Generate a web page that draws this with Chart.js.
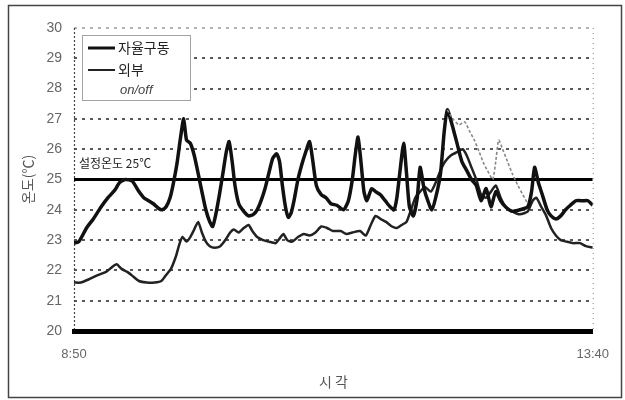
<!DOCTYPE html>
<html>
<head>
<meta charset="utf-8">
<script src="https://cdn.jsdelivr.net/npm/chart.js@4/dist/chart.umd.min.js"></script>
<style>
  html,body{margin:0;padding:0;background:#fff;}
  #wrap{width:625px;height:400px;position:relative;}
</style>
</head>
<body>
<div id="wrap"><canvas id="c" width="625" height="400"></canvas></div>
<script>
// x: minutes since 8:50
const xTickValues = [0, 290];
const xTickLabels = ['8:50', '13:40'];
const yTicks = [20, 21, 22, 23, 24, 25, 26, 27, 28, 29, 30];
const setPoint = 25;
const setPointLabel = '설정온도 25℃';
const seriesNames = ['자율구동', '외부', 'on/off'];

const timeAuto = [0,2.7,7.0,10.8,15.2,19.0,22.8,25.5,28.7,32.5,36.3,39.0,41.7,44.4,47.2,49.3,51.5,53.7,55.3,57.5,59.6,61.3,62.9,65.0,67.2,69.4,71.5,73.7,75.9,77.5,79.1,81.3,83.5,85.1,86.7,88.4,90.0,92.1,94.9,97.6,100.3,102.4,104.6,106.8,108.9,111.1,113.3,114.9,116.5,118.2,119.8,121.4,123.0,125.2,127.4,129.5,131.7,133.3,135.5,138.2,140.9,143.6,146.9,150.7,153.4,155.6,157.2,158.8,160.4,162.1,163.7,166.4,168.6,171.3,174.0,176.7,178.9,180.5,182.1,184.3,185.9,187.5,189.7,191.9,193.5,195.7,197.8,200.0,202.2,204.9,207.0,208.7,211.4,214.1,216.8,219.5,222.2,224.9,227.6,230.4,233.1,235.8,238.5,241.2,245.0,249.3,253.7,255.8,257.5,259.6,261.8,264.5,266.7,269.4,272.1,274.8,277.5,280.8,284.6,287.3,290.0];
const tempAuto = [22.9,22.95,23.4,23.7,24.1,24.4,24.65,24.9,25.0,24.95,24.6,24.4,24.3,24.2,24.05,24.0,24.1,24.4,24.8,25.5,26.4,27.0,26.3,26.2,25.8,25.2,24.6,24.0,23.6,23.45,23.8,24.5,25.3,25.9,26.25,25.6,24.8,24.2,23.95,23.8,23.85,24.0,24.3,24.7,25.2,25.7,25.85,25.6,24.8,24.1,23.75,23.9,24.3,25.0,25.5,25.9,26.25,25.7,24.8,24.5,24.4,24.2,24.15,24.0,24.3,25.0,25.8,26.4,25.6,24.6,24.3,24.7,24.6,24.5,24.3,24.1,24.0,24.4,25.2,26.2,25.2,24.1,23.8,24.4,25.4,24.7,24.3,24.0,24.4,25.2,26.6,27.3,26.8,26.2,25.6,25.3,25.0,24.8,24.3,24.7,24.1,24.6,24.3,24.1,23.95,24.0,24.1,24.6,25.4,24.9,24.5,24.0,23.8,23.7,23.8,24.0,24.15,24.3,24.3,24.3,24.15];

const timeOut = [0,3.8,8.1,13.6,17.9,21.1,23.8,26.6,29.8,33.1,36.3,40.7,45.0,48.8,51.5,54.2,56.9,59.1,60.7,62.9,65.0,67.2,69.4,71.5,73.7,75.9,78.6,81.8,84.6,87.3,89.4,92.1,94.9,97.6,99.7,102.4,105.7,108.9,112.7,114.9,117.1,119.2,122.0,125.2,128.5,131.7,135.0,138.2,141.5,144.7,149.1,152.3,155.6,159.9,163.1,165.9,168.6,171.3,174.5,177.8,180.5,183.2,185.9,188.1,190.8,193.5,196.2,199.5,202.2,204.9,207.6,210.8,214.1,217.3,219.5,222.2,224.9,227.6,230.4,233.1,235.8,238.5,241.2,245.0,249.3,253.7,256.4,258.5,261.2,264.0,266.7,269.4,272.1,275.3,279.1,282.9,286.2,290.0];
const tempOut = [21.6,21.6,21.7,21.85,21.95,22.1,22.2,22.05,21.95,21.8,21.65,21.6,21.6,21.65,21.85,22.05,22.45,22.9,23.1,22.95,23.1,23.35,23.6,23.25,22.95,22.8,22.75,22.8,23.0,23.25,23.35,23.25,23.4,23.5,23.3,23.1,23.0,22.95,22.9,23.05,23.2,23.0,22.95,23.1,23.2,23.15,23.25,23.45,23.4,23.3,23.3,23.2,23.25,23.3,23.15,23.5,23.8,23.7,23.6,23.45,23.4,23.5,23.6,23.95,24.4,24.6,24.75,24.6,24.9,25.3,25.6,25.8,25.9,26.0,25.8,25.4,25.0,24.5,24.4,24.6,24.8,24.4,24.1,23.95,23.85,23.95,24.3,24.4,24.1,23.8,23.4,23.15,23.0,22.95,22.9,22.9,22.8,22.75];

const timeOnOff = [208.7,211.9,215.2,218.4,221.1,223.8,226.6,229.3,232.0,234.1,235.8,237.4,239.6,242.3,245.0,248.2,250.9,253.7];
const tempOnOff = [27.3,27.0,26.8,26.9,26.6,26.3,25.9,25.5,25.2,25.0,25.6,26.3,26.0,25.6,25.2,24.8,24.5,24.2];

const toPts = (xs, ys) => xs.map((x, i) => ({x: x, y: ys[i]}));
const KR = '"Noto Sans CJK KR", "Noto Sans", sans-serif';
const LAT = '"Liberation Sans", Arial, sans-serif';

const decor = {
  id: 'decor',
  beforeDraw(chart) {
    const ctx = chart.ctx;
    ctx.save();
    ctx.fillStyle = '#fff';
    ctx.fillRect(0, 0, chart.width, chart.height);
    ctx.strokeStyle = '#444';
    ctx.lineWidth = 1.5;
    ctx.strokeRect(8.5, 5.5, 613, 392);
    ctx.restore();
  },
  beforeDatasetsDraw(chart) {
    const ctx = chart.ctx;
    const a = chart.chartArea;
    const ys = chart.scales.y;
    ctx.save();
    ctx.lineWidth = 1.5;
    ctx.setLineDash([3, 5]);
    yTicks.forEach(v => {
      if (v === yTicks[0]) return;
      const y = Math.round(ys.getPixelForValue(v));
      ctx.strokeStyle = v === yTicks[yTicks.length - 1] ? '#999' : '#222';
      ctx.beginPath();
      ctx.moveTo(a.left, y);
      ctx.lineTo(a.right, y);
      ctx.stroke();
    });
    // left and right dotted borders
    ctx.lineWidth = 1.2;
    ctx.setLineDash([2, 2]);
    ctx.strokeStyle = '#444';
    ctx.beginPath();
    ctx.moveTo(a.left + 0.5, a.top);
    ctx.lineTo(a.left + 0.5, a.bottom);
    ctx.stroke();
    ctx.strokeStyle = '#999';
    ctx.setLineDash([1, 4]);
    ctx.beginPath();
    ctx.moveTo(a.right + 0.5, a.top);
    ctx.lineTo(a.right + 0.5, a.bottom);
    ctx.stroke();
    ctx.restore();
  },
  afterDraw(chart) {
    const ctx = chart.ctx;
    const a = chart.chartArea;
    const ys = chart.scales.y;
    ctx.save();
    // set-point label
    ctx.fillStyle = '#222';
    ctx.font = '12px ' + KR;
    ctx.textAlign = 'left';
    ctx.textBaseline = 'middle';
    ctx.fillText(setPointLabel, a.left + 5, ys.getPixelForValue(setPoint) - 16);
    // legend box
    const bx = 82, by = 35, bw = 108, bh = 65;
    ctx.fillStyle = '#fff';
    ctx.fillRect(bx, by, bw, bh);
    ctx.strokeStyle = '#444';
    ctx.lineWidth = 1;
    ctx.setLineDash([1, 1]);
    ctx.strokeRect(bx + 0.5, by + 0.5, bw, bh);
    ctx.setLineDash([]);
    const rows = [
      {y: 48, ds: chart.data.datasets[0]},
      {y: 70, ds: chart.data.datasets[1]}
    ];
    ctx.font = '14px ' + KR;
    rows.forEach(r => {
      ctx.strokeStyle = r.ds.borderColor;
      ctx.lineWidth = r.ds.borderWidth - 0.5;
      ctx.beginPath();
      ctx.moveTo(88, r.y);
      ctx.lineTo(115, r.y);
      ctx.stroke();
      ctx.fillStyle = '#222';
      ctx.fillText(r.ds.label, 118, r.y);
    });
    ctx.font = 'italic 13px ' + LAT;
    ctx.fillStyle = '#444';
    ctx.fillText(chart.data.datasets[2].label, 120, 90);
    ctx.restore();
  }
};

new Chart(document.getElementById('c'), {
  type: 'line',
  data: {
    datasets: [
      {label: seriesNames[0], data: toPts(timeAuto, tempAuto), borderColor: '#111', borderWidth: 3.5, pointRadius: 0, tension: 0.2, order: 1},
      {label: seriesNames[1], data: toPts(timeOut, tempOut), borderColor: '#222', borderWidth: 2.5, pointRadius: 0, tension: 0.2, order: 2},
      {label: seriesNames[2], data: toPts(timeOnOff, tempOnOff), borderColor: '#888', borderWidth: 1.6, borderDash: [3, 2], pointRadius: 0, tension: 0.2, order: 0},
      {label: '설정온도', data: [{x: xTickValues[0], y: setPoint}, {x: xTickValues[1], y: setPoint}], borderColor: '#000', borderWidth: 3, pointRadius: 0, order: 3}
    ]
  },
  options: {
    responsive: false,
    animation: false,
    events: [],
    layout: {padding: {left: 0, right: 15, top: 28, bottom: 0}},
    plugins: {legend: {display: false}, tooltip: {enabled: false}},
    scales: {
      x: {
        type: 'linear',
        min: xTickValues[0],
        max: xTickValues[1],
        afterBuildTicks: s => { s.ticks = xTickValues.map(v => ({value: v})); },
        afterFit: s => { s.height = 69; },
        ticks: {
          callback: v => xTickLabels[xTickValues.indexOf(v)],
          font: {size: 13, family: LAT},
          color: '#666',
          padding: 16,
          maxRotation: 0,
          autoSkip: false
        },
        grid: {display: false, drawTicks: false},
        border: {display: true, color: '#000', width: 5, z: 1},
        title: {display: true, text: '시 각', font: {size: 14, family: KR}, color: '#555', padding: {top: 4, bottom: 10}}
      },
      y: {
        min: yTicks[0],
        max: yTicks[yTicks.length - 1],
        afterBuildTicks: s => { s.ticks = yTicks.map(v => ({value: v})); },
        afterFit: s => { s.width = 74; },
        ticks: {font: {size: 14, family: LAT}, color: '#666', padding: 12},
        grid: {display: false, drawTicks: false},
        border: {display: false},
        title: {display: true, text: '온도(℃)', font: {size: 14, family: KR}, color: '#555', padding: {top: 19, bottom: 0}}
      }
    }
  },
  plugins: [decor]
});
</script>
</body>
</html>
